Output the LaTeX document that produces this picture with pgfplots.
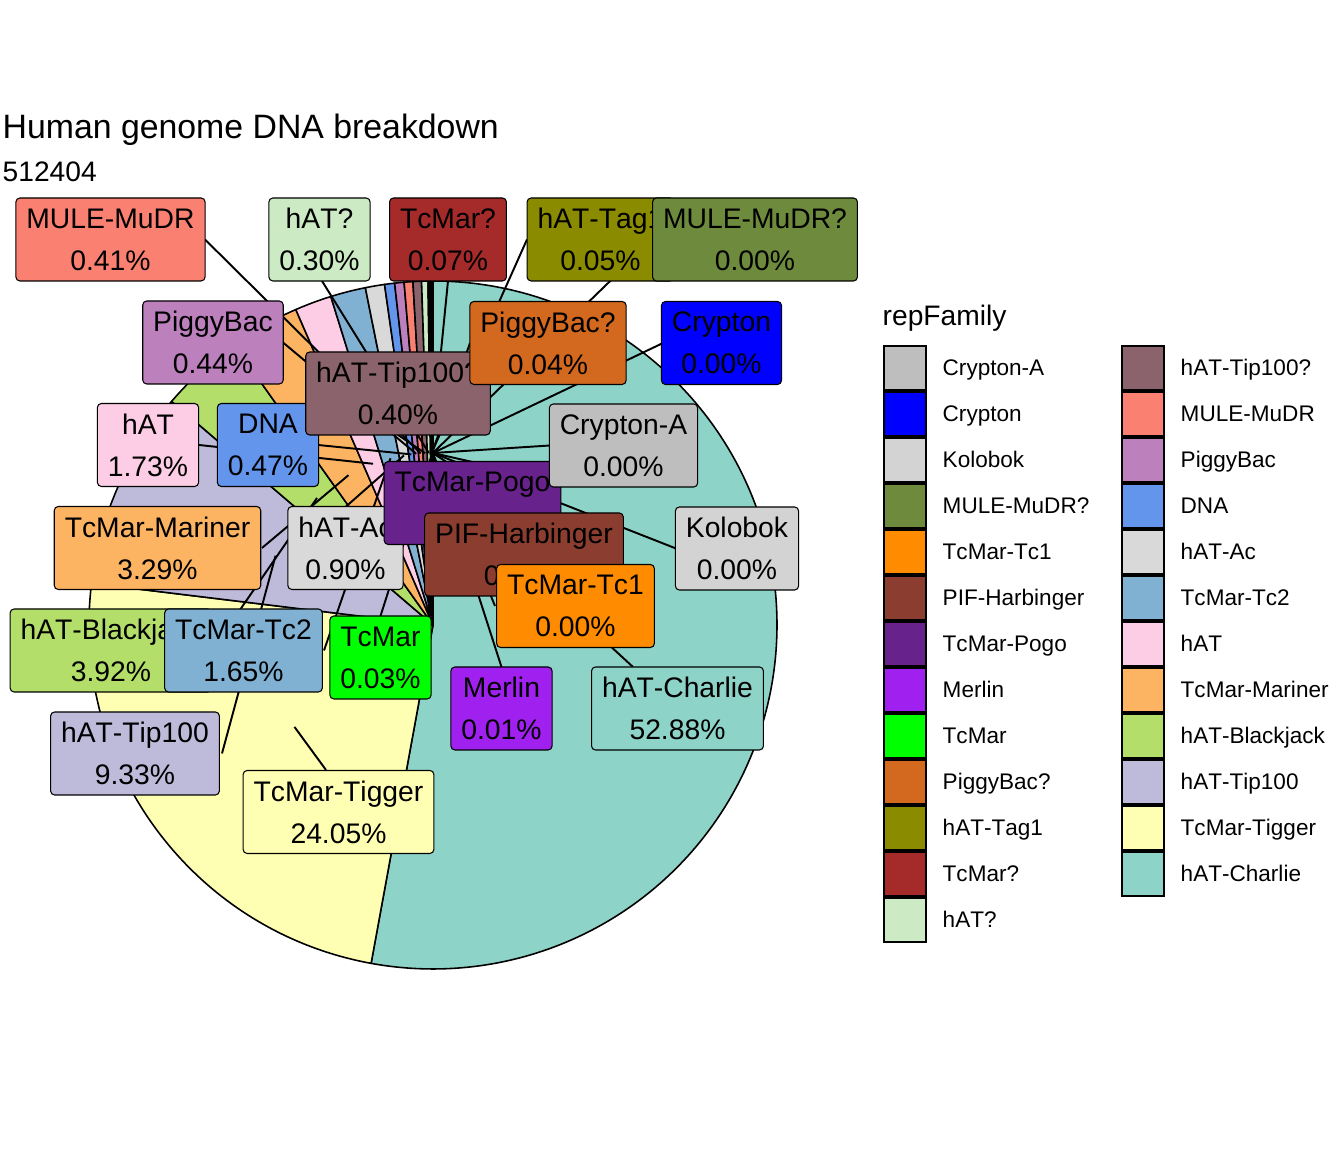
\documentclass[border=0pt]{standalone}
\usepackage{pgfplots}
\pgfplotsset{compat=1.18}
\usepackage{pgfplotstable}
\usepackage{fontspec}
\setmainfont{Liberation Sans}[Kerning=Off]

\definecolor{cCryptonA}{HTML}{BEBEBE}
\definecolor{cCrypton}{HTML}{0000FF}
\definecolor{cKolobok}{HTML}{D3D3D3}
\definecolor{cMuleQ}{HTML}{6E8B3D}
\definecolor{cTcOne}{HTML}{FF8C00}
\definecolor{cPIF}{HTML}{8B3E2F}
\definecolor{cPogo}{HTML}{68228B}
\definecolor{cMerlin}{HTML}{A020F0}
\definecolor{cTcMar}{HTML}{00FF00}
\definecolor{cPiggyQ}{HTML}{D2691E}
\definecolor{cTagOne}{HTML}{8B8B00}
\definecolor{cTcMarQ}{HTML}{A52A2A}
\definecolor{chATQ}{HTML}{CCEBC5}
\definecolor{cTipQ}{HTML}{8B636C}
\definecolor{cMule}{HTML}{FA8072}
\definecolor{cPiggy}{HTML}{BC80BD}
\definecolor{cDNA}{HTML}{6495ED}
\definecolor{chATAc}{HTML}{D9D9D9}
\definecolor{cTcTwo}{HTML}{80B1D3}
\definecolor{chAT}{HTML}{FCCDE5}
\definecolor{cMariner}{HTML}{FDB462}
\definecolor{cBlackjack}{HTML}{B3DE69}
\definecolor{cTip}{HTML}{BEBADA}
\definecolor{cTigger}{HTML}{FFFFB3}
\definecolor{cCharlie}{HTML}{8DD3C7}

% share of each repFamily (percent), legend order
% lx, ly = centre of the label box, ex, ey = where its segment meets the box (px from top left)
\pgfplotstableread[col sep=comma]{
name,pct,col,lx,ly,ex,ey
Crypton-A,0.004,cCryptonA,623.5,445.5,550,445.5
Crypton,0.004,cCrypton,721.5,343,662,343.5
Kolobok,0.004,cKolobok,737,548.5,676,548.5
MULE-MuDR?,0.004,cMuleQ,755,239.5,653,239.5
TcMar-Tc1,0.004,cTcOne,575.5,606,495,606
PIF-Harbinger,0.004,cPIF,524,554.5,524,513
TcMar-Pogo,0.004,cPogo,472.5,503,472.5,462
Merlin,0.01,cMerlin,501.5,708.5,501.5,667
TcMar,0.03,cTcMar,380.5,657.5,380.5,616
PiggyBac?,0.04,cPiggyQ,548,343,470,343
hAT-Tag1,0.05,cTagOne,600.5,239.5,527,239.5
TcMar?,0.07,cTcMarQ,448,239.5,448,281
hAT?,0.30,chATQ,319.5,239.5,322,281
hAT-Tip100?,0.40,cTipQ,398,393.5,398,435
MULE-MuDR,0.41,cMule,110.5,239.5,205,239.5
PiggyBac,0.44,cPiggy,213,342.5,283,342.5
DNA,0.47,cDNA,268,445,318,445
hAT-Ac,0.90,chATAc,345.5,548,345.5,507
TcMar-Tc2,1.65,cTcTwo,243.5,650.5,324,650.5
hAT,1.73,chAT,148,445,199,445
TcMar-Mariner,3.29,cMariner,157.5,548,262,548
hAT-Blackjack,3.92,cBlackjack,111,650.5,212,650.5
hAT-Tip100,9.33,cTip,135,753.5,222,753.5
TcMar-Tigger,24.05,cTigger,338.5,812,326,770
hAT-Charlie,52.88,cCharlie,677.5,708.5,633,667
}\repdata

\def\cx{4.33}\def\cy{5.27}\def\R{3.44}
\pgfkeys{/pgf/number format/assume math mode=true}
\tikzset{lbl/.style={draw=black, line width=0.3pt, rounded corners=0.4mm,
    align=center, inner xsep=1.05mm, inner ysep=0.5mm, minimum height=8.3mm,
    font=\fontsize{8.05}{11.95}\selectfont, text=black}}

\newcommand\rowdata[1]{%
  \pgfplotstablegetelem{#1}{name}\of\repdata\let\rname\pgfplotsretval
  \pgfplotstablegetelem{#1}{pct}\of\repdata\let\rpct\pgfplotsretval
  \pgfplotstablegetelem{#1}{col}\of\repdata\let\rcol\pgfplotsretval
  \pgfplotstablegetelem{#1}{lx}\of\repdata\let\rlx\pgfplotsretval
  \pgfplotstablegetelem{#1}{ly}\of\repdata\let\rly\pgfplotsretval
  \pgfplotstablegetelem{#1}{ex}\of\repdata\let\rex\pgfplotsretval
  \pgfplotstablegetelem{#1}{ey}\of\repdata\let\rey\pgfplotsretval
}
% angles of the slice of the current row, clockwise from 12 o'clock
\newcommand\slicegeom{%
  \pgfmathsetmacro\ta{90-3.6*\cum}%
  \pgfmathsetmacro\tb{90-3.6*(\cum+\rpct)}%
  \pgfmathsetmacro\tm{(\ta+\tb)/2}%
  \pgfmathsetmacro\cum{\cum+\rpct}%
  \pgfmathsetmacro\bx{\rlx/100}%
  \pgfmathsetmacro\by{(1152-\rly)/100}%
  \pgfmathsetmacro\sgx{\rex/100}%
  \pgfmathsetmacro\sgy{(1152-\rey)/100}%
}

\begin{document}
\begin{tikzpicture}
\begin{axis}[
  x=1cm, y=1cm,
  xmin=0, xmax=13.44, ymin=0, ymax=11.52,
  hide axis, clip=false,
]
\path (axis cs:0,0) rectangle (axis cs:13.44,11.52);

% slices
\def\cum{0}
\pgfplotsforeachungrouped \j in {0,...,24}{%
  \pgfmathtruncatemacro\i{24-\j}%
  \rowdata{\i}\slicegeom
  \pgfmathsetmacro\sx{\cx+\R*cos(\ta)}%
  \pgfmathsetmacro\sy{\cy+\R*sin(\ta)}%
  \edef\tmp{\noexpand\filldraw[fill=\rcol, draw=black, line width=0.45pt, line join=round]
    (axis cs:\cx,\cy) -- (axis cs:\sx,\sy) arc[start angle=\ta, end angle=\tb, radius=\R] -- cycle;}%
  \tmp
}

% segments
\def\cum{0}
\pgfplotsforeachungrouped \j in {0,...,24}{%
  \pgfmathtruncatemacro\i{24-\j}%
  \rowdata{\i}\slicegeom
  \pgfmathsetmacro\ax{\cx+0.5*\R*cos(\tm)}%
  \pgfmathsetmacro\ay{\cy+0.5*\R*sin(\tm)}%
  \edef\tmp{\noexpand\draw[line width=0.55pt] (axis cs:\ax,\ay) -- (axis cs:\sgx,\sgy);}%
  \tmp
}

% labels
\def\cum{0}
\pgfplotsforeachungrouped \j in {0,...,24}{%
  \pgfmathtruncatemacro\i{24-\j}%
  \rowdata{\i}\slicegeom
  \edef\tmp{\noexpand\node[lbl, fill=\rcol] at (axis cs:\bx,\by)
    {\rname\noexpand\\\noexpand\pgfmathprintnumber[fixed,fixed zerofill,precision=2]{\rpct}\noexpand\%};}%
  \tmp
}

% legend
\node[anchor=base west, inner sep=0, font=\fontsize{8.02}{10}\selectfont] at (axis cs:8.82,8.26) {repFamily};
\pgfplotsforeachungrouped \i in {0,...,24}{%
  \rowdata{\i}%
  \pgfmathtruncatemacro\c{\i>12}%
  \pgfmathtruncatemacro\k{\i-13*\c}%
  \pgfmathsetmacro\kx{8.84+2.38*\c}%
  \pgfmathsetmacro\kxx{\kx+0.42}%
  \pgfmathsetmacro\tx{\kx+0.58}%
  \pgfmathsetmacro\ky{(1152-368-46*\k)/100}%
  \pgfmathsetmacro\kya{\ky-0.22}%
  \pgfmathsetmacro\kyb{\ky+0.22}%
  \pgfmathsetmacro\ty{\ky-0.08}%
  \edef\tmp{\noexpand\filldraw[fill=\rcol, draw=black, line width=0.6pt]
    (axis cs:\kx,\kya) rectangle (axis cs:\kxx,\kyb);
    \noexpand\node[anchor=base west, inner sep=0, font=\noexpand\fontsize{6.42}{8}\noexpand\selectfont] at (axis cs:\tx,\ty) {\rname};}%
  \tmp
}

% title
\node[anchor=base west, inner sep=0, font=\fontsize{9.62}{12}\selectfont] at (axis cs:0.02,10.13) {Human genome DNA breakdown};
\node[anchor=base west, inner sep=0, font=\fontsize{8.02}{10}\selectfont] at (axis cs:0.02,9.70) {512404};
\end{axis}
\end{tikzpicture}
\end{document}
